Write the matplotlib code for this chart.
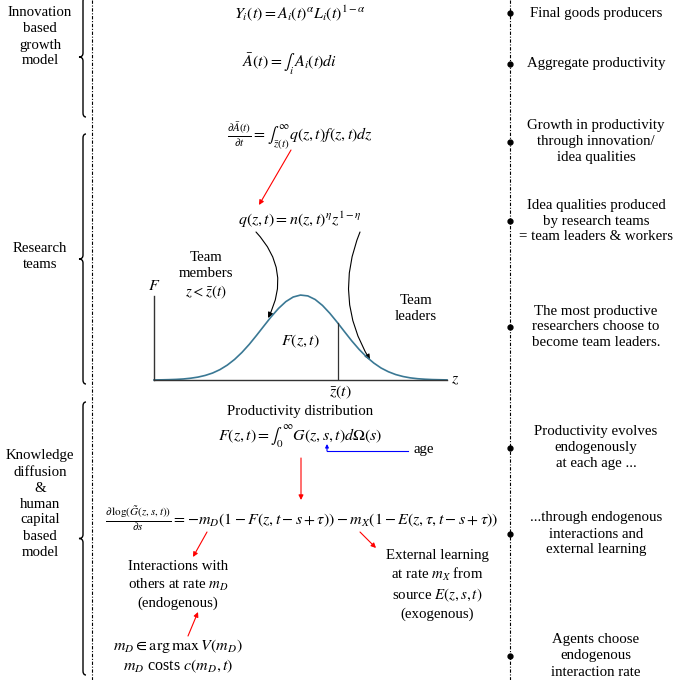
import numpy as np
import matplotlib.pyplot as plt
from matplotlib.patches import FancyArrowPatch, PathPatch
from matplotlib.path import Path

plt.rcParams['font.family'] = 'Liberation Serif'
plt.rcParams['mathtext.fontset'] = 'stix'

# Textos del diagrama
secciones = ["Innovation\nbased\ngrowth\nmodel",
             "Research\nteams",
             "Knowledge\ndiffusion\n&\nhuman\ncapital\nbased\nmodel"]

descripciones = ["Final goods producers",
                 "Aggregate productivity",
                 "Growth in productivity\nthrough innovation/\nidea qualities",
                 "Idea qualities produced\nby research teams\n= team leaders & workers",
                 "The most productive\nresearchers choose to\nbecome team leaders.",
                 "Productivity evolves\nendogenously\nat each age ...",
                 "...through endogenous\ninteractions and\nexternal learning",
                 "Agents choose\nendogenous\ninteraction rate"]

ecuaciones = [r"$Y_i(t) = A_i(t)^{\alpha} L_i(t)^{1-\alpha}$",
              r"$\bar{A}(t) = \int_i\, A_i(t) di$",
              r"$\frac{\partial \bar{A}(t)}{\partial t} = \int_{\bar{z}(t)}^{\infty} q(z,t) f(z,t) dz$",
              r"$q(z,t) = n(z,t)^{\eta} z^{1-\eta}$",
              r"$F(z,t) = \int_0^{\infty} G(z,s,t) d\Omega(s)$",
              r"$\frac{\partial\, \log(\tilde{G}(z,s,t))}{\partial s} = -m_D(1-F(z,t-s+\tau)) - m_X(1-E(z,\tau,t-s+\tau))$",
              "$m_D \\in \\arg\\max\\, V(m_D)$\n$m_D$ costs $c(m_D,t)$"]

notas = ["Team\nmembers\n$z < \\bar{z}(t)$",
         "Team\nleaders",
         "Interactions with\nothers at rate $m_D$\n(endogenous)",
         "External learning\nat rate $m_X$ from\nsource $E(z,s,t)$\n(exogenous)",
         "age",
         "Productivity distribution"]

# Distribucion de productividad
z_vals = np.arange(0, 10.01, 0.25)
F_vals = [0.001, 0.002, 0.004, 0.007, 0.012, 0.021, 0.034, 0.054, 0.082, 0.122,
          0.175, 0.242, 0.324, 0.419, 0.525, 0.635, 0.744, 0.842, 0.922, 0.976,
          0.999, 0.989, 0.947, 0.877, 0.785, 0.680, 0.569, 0.460, 0.360, 0.273,
          0.200, 0.141, 0.097, 0.064, 0.041, 0.025, 0.015, 0.009, 0.005, 0.003,
          0.001]
z_corte = 6.28

W, H = 674, 680
fig = plt.figure(figsize=(W / 100, H / 100), dpi=100)
ax = fig.add_axes([0, 0, 1, 1])
ax.set_xlim(0, W)
ax.set_ylim(H, 0)
ax.axis('off')

fs = 10.7    # texto
fm = 11.5    # ecuaciones
ls = 1.3

# lineas verticales punto-raya
for xl in [92, 510]:
    ax.plot([xl, xl], [0, H], color='black', lw=0.8, ls=(0, (3, 1.5, 1, 1.5)))


def llave(x, y0, y1, w=4, r=4):
    ym = (y0 + y1) / 2
    verts = [(x + 3, y0), (x, y0), (x, y0 + r), (x, ym - r),
             (x, ym), (x - w, ym), (x, ym), (x, ym + r), (x, y1 - r),
             (x, y1), (x + 3, y1)]
    codes = [Path.MOVETO, Path.CURVE3, Path.CURVE3, Path.LINETO,
             Path.CURVE3, Path.CURVE3, Path.CURVE3, Path.CURVE3, Path.LINETO,
             Path.CURVE3, Path.CURVE3]
    ax.add_patch(PathPatch(Path(verts, codes), fill=False, lw=1.0, color='black'))


llave(83, -3, 117)
llave(83, 134, 384)
llave(83, 402, 675)

for txt, y in zip(secciones, [37, 257, 504]):
    ax.text(40, y, txt, ha='center', va='center', fontsize=fs, linespacing=ls)

# puntos y descripciones de la derecha
y_desc = [13, 64, 142, 221, 327, 448, 534, 656]
for txt, y in zip(descripciones, y_desc):
    ax.plot(510, y, 'o', color='black', ms=3.5)
    ax.text(596, y, txt, ha='center', va='center', fontsize=fs, linespacing=ls)

# ecuaciones
pos_ec = [(300, 13), (290, 64), (300, 136), (300, 220), (300, 437), (302, 519), (178, 656)]
for txt, (x, y) in zip(ecuaciones, pos_ec):
    ax.text(x, y, txt, ha='center', va='center', fontsize=fm, linespacing=1.25)

pos_notas = [(206, 276), (416, 309), (178, 585), (437, 585), (424, 449), (300, 411)]
for txt, (x, y) in zip(notas, pos_notas):
    ax.text(x, y, txt, ha='center', va='center', fontsize=fs, linespacing=ls)


def flecha(p0, p1, color='red', rad=0.0, lw=0.8, ms=7):
    ax.add_patch(FancyArrowPatch(p0, p1, arrowstyle='-|>', mutation_scale=ms,
                                 color=color, lw=lw, shrinkA=0, shrinkB=0,
                                 connectionstyle=f'arc3,rad={rad}'))


flecha((291, 150), (259, 205))
flecha((301, 458), (301, 500))
flecha((207, 532), (193, 557))
flecha((360, 532), (376, 548))
flecha((188, 636), (198, 612))
flecha((256, 232), (268, 318), color='black', rad=-0.35, ms=8)
flecha((360, 232), (370, 360), color='black', rad=0.25, ms=8)

# flecha azul de "age"
ax.plot([408, 327], [451, 451], color='blue', lw=0.8)
flecha((327, 451), (327, 444), color='blue', ms=5)

# grafico de la distribucion
ax_d = fig.add_axes([154 / W, 1 - 380 / H, (447 - 154) / W, (380 - 296) / H])
ax_d.patch.set_visible(False)
ax_d.plot(z_vals, F_vals, color='#3a7894', lw=1.2, clip_on=False)
F_corte = np.interp(z_corte, z_vals, F_vals)
ax_d.plot([z_corte, z_corte], [0, F_corte], color='#333333', lw=0.9)
ax_d.set_xlim(0, 10)
ax_d.set_ylim(0, 0.988)
ax_d.set_xticks([])
ax_d.set_yticks([])
for s in ['top', 'right']:
    ax_d.spines[s].set_visible(False)
for s in ['left', 'bottom']:
    ax_d.spines[s].set_color('#333333')
    ax_d.spines[s].set_linewidth(1.0)

ax.text(154, 286, '$F$', ha='center', va='center', fontsize=fm)
ax.text(455, 379, '$z$', ha='center', va='center', fontsize=fm)
ax.text(300, 341, '$F(z,t)$', ha='center', va='center', fontsize=fm)
ax.text(340, 392, r'$\bar{z}(t)$', ha='center', va='center', fontsize=fm)

fig.savefig('out.png', dpi=100)
